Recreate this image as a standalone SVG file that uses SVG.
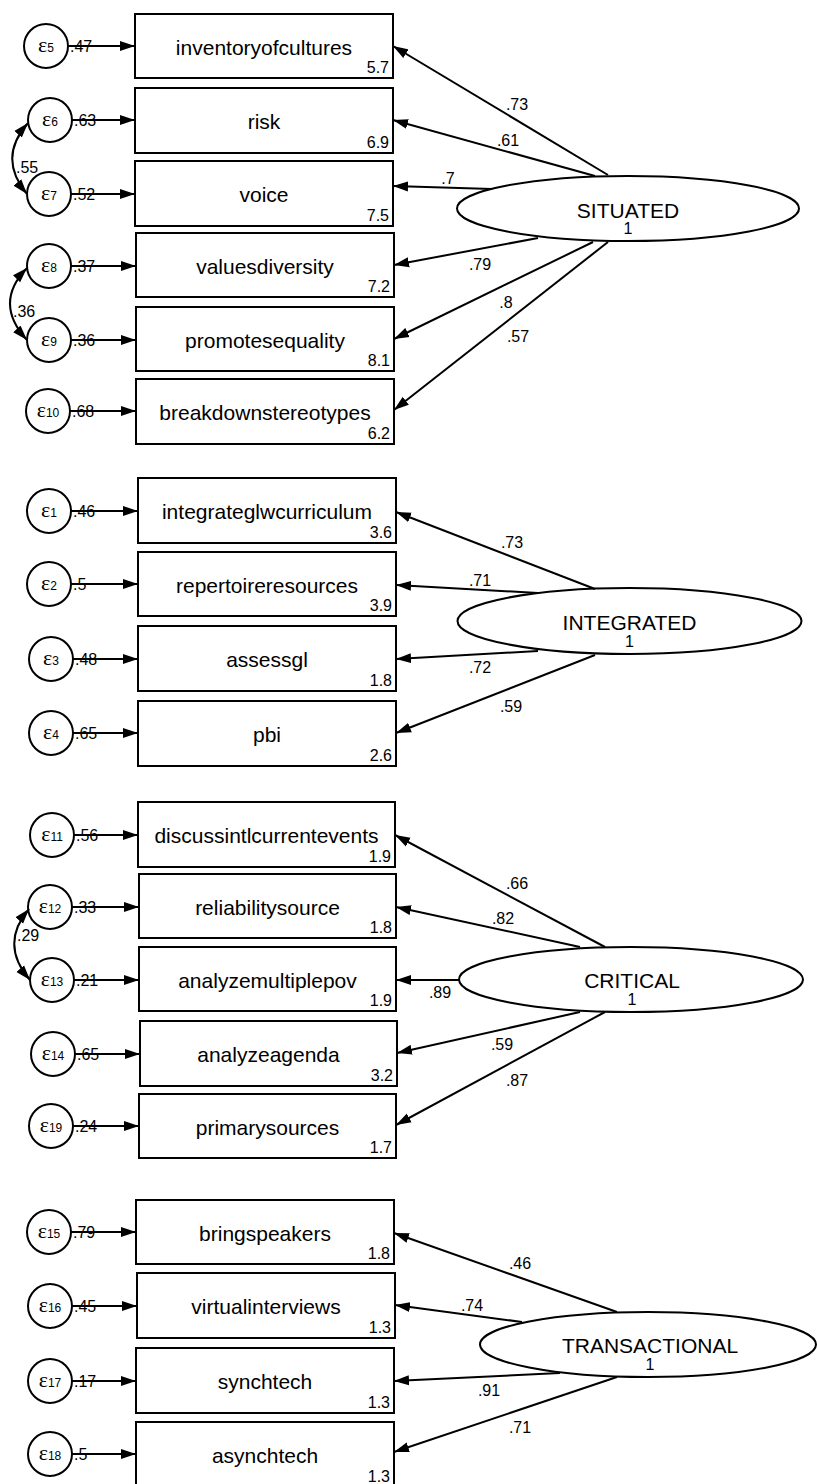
<svg xmlns="http://www.w3.org/2000/svg" width="817" height="1484" viewBox="0 0 817 1484">
<style>
.bx{fill:#fff;stroke:#000;stroke-width:2}
.er{fill:#fff;stroke:#000;stroke-width:2}
.lv{fill:#fff;stroke:#000;stroke-width:2}
.ln{fill:none;stroke:#000;stroke-width:2}
.lbl{font-family:"Liberation Sans",Arial,sans-serif;font-size:21px;text-anchor:middle;fill:#000}
.num{font-family:"Liberation Sans",Arial,sans-serif;font-size:16px;text-anchor:end;fill:#000}
.coef{font-family:"Liberation Sans",Arial,sans-serif;font-size:16px;text-anchor:middle;fill:#000}
.el{font-family:"Liberation Sans",Arial,sans-serif;font-size:16px;fill:#000}
.one{font-family:"Liberation Sans",Arial,sans-serif;font-size:16px;text-anchor:middle;fill:#000}
.eps{font-family:"Liberation Serif","Times New Roman",serif;font-size:22px}
.sub{font-family:"Liberation Sans",Arial,sans-serif;font-size:12px}
.et{text-anchor:middle;fill:#000}
</style>
<defs>
<marker id="ah" markerWidth="16" markerHeight="11" refX="15" refY="5.5" orient="auto-start-reverse" markerUnits="userSpaceOnUse"><path d="M0,0.5 L15,5.5 L0,10.5 z" fill="#000"/></marker>
</defs>

<!-- ===== SITUATED section ===== -->
<g id="box-inventoryofcultures"><rect class="bx" x="135" y="14" width="258" height="64"/><text class="lbl" x="264" y="55">inventoryofcultures</text><text class="num" x="389" y="73">5.7</text></g>
<g id="box-risk"><rect class="bx" x="135" y="88" width="258" height="65"/><text class="lbl" x="264" y="129">risk</text><text class="num" x="389" y="148">6.9</text></g>
<g id="box-voice"><rect class="bx" x="135" y="161" width="258" height="65"/><text class="lbl" x="264" y="202">voice</text><text class="num" x="389" y="221">7.5</text></g>
<g id="box-valuesdiversity"><rect class="bx" x="136" y="233" width="258" height="64"/><text class="lbl" x="265" y="274">valuesdiversity</text><text class="num" x="390" y="292">7.2</text></g>
<g id="box-promotesequality"><rect class="bx" x="136" y="307" width="258" height="64"/><text class="lbl" x="265" y="348">promotesequality</text><text class="num" x="390" y="366">8.1</text></g>
<g id="box-breakdownstereotypes"><rect class="bx" x="136" y="379" width="258" height="65"/><text class="lbl" x="265" y="420">breakdownstereotypes</text><text class="num" x="390" y="439">6.2</text></g>

<g id="e5"><circle class="er" cx="46" cy="46" r="22"/><text class="et" x="46" y="52"><tspan class="eps">ε</tspan><tspan class="sub">5</tspan></text></g>
<g id="e6"><circle class="er" cx="50" cy="120" r="22"/><text class="et" x="50" y="126"><tspan class="eps">ε</tspan><tspan class="sub">6</tspan></text></g>
<g id="e7"><circle class="er" cx="49" cy="194" r="22"/><text class="et" x="49" y="200"><tspan class="eps">ε</tspan><tspan class="sub">7</tspan></text></g>
<g id="e8"><circle class="er" cx="49" cy="266" r="22"/><text class="et" x="49" y="272"><tspan class="eps">ε</tspan><tspan class="sub">8</tspan></text></g>
<g id="e9"><circle class="er" cx="49" cy="340" r="22"/><text class="et" x="49" y="346"><tspan class="eps">ε</tspan><tspan class="sub">9</tspan></text></g>
<g id="e10"><circle class="er" cx="48" cy="411" r="22"/><text class="et" x="48" y="417"><tspan class="eps">ε</tspan><tspan class="sub">10</tspan></text></g>

<g id="SITUATED"><ellipse class="lv" cx="628" cy="208.5" rx="171" ry="32.5"/><text class="lbl" x="628" y="218">SITUATED</text><text class="one" x="628" y="234">1</text></g>

<!-- ===== INTEGRATED section ===== -->
<g id="box-integrateglwcurriculum"><rect class="bx" x="138" y="478" width="258" height="65"/><text class="lbl" x="267" y="519">integrateglwcurriculum</text><text class="num" x="392" y="538">3.6</text></g>
<g id="box-repertoireresources"><rect class="bx" x="138" y="552" width="258" height="64"/><text class="lbl" x="267" y="593">repertoireresources</text><text class="num" x="392" y="611">3.9</text></g>
<g id="box-assessgl"><rect class="bx" x="138" y="626" width="258" height="65"/><text class="lbl" x="267" y="667">assessgl</text><text class="num" x="392" y="686">1.8</text></g>
<g id="box-pbi"><rect class="bx" x="138" y="701" width="258" height="65"/><text class="lbl" x="267" y="742">pbi</text><text class="num" x="392" y="761">2.6</text></g>

<g id="e1"><circle class="er" cx="49" cy="511" r="22"/><text class="et" x="49" y="517"><tspan class="eps">ε</tspan><tspan class="sub">1</tspan></text></g>
<g id="e2"><circle class="er" cx="49" cy="584" r="22"/><text class="et" x="49" y="590"><tspan class="eps">ε</tspan><tspan class="sub">2</tspan></text></g>
<g id="e3"><circle class="er" cx="51" cy="659" r="22"/><text class="et" x="51" y="665"><tspan class="eps">ε</tspan><tspan class="sub">3</tspan></text></g>
<g id="e4"><circle class="er" cx="51" cy="733" r="22"/><text class="et" x="51" y="739"><tspan class="eps">ε</tspan><tspan class="sub">4</tspan></text></g>

<g id="INTEGRATED"><ellipse class="lv" cx="629.5" cy="621" rx="172" ry="33"/><text class="lbl" x="629.5" y="630">INTEGRATED</text><text class="one" x="629.5" y="647">1</text></g>

<!-- ===== CRITICAL section ===== -->
<g id="box-discussintlcurrentevents"><rect class="bx" x="138" y="802" width="257" height="65"/><text class="lbl" x="266.5" y="843">discussintlcurrentevents</text><text class="num" x="391" y="862">1.9</text></g>
<g id="box-reliabilitysource"><rect class="bx" x="139" y="874" width="257" height="64"/><text class="lbl" x="267.5" y="915">reliabilitysource</text><text class="num" x="392" y="933">1.8</text></g>
<g id="box-analyzemultiplepov"><rect class="bx" x="139" y="947" width="257" height="64"/><text class="lbl" x="267.5" y="988">analyzemultiplepov</text><text class="num" x="392" y="1006">1.9</text></g>
<g id="box-analyzeagenda"><rect class="bx" x="140" y="1021" width="257" height="65"/><text class="lbl" x="268.5" y="1062">analyzeagenda</text><text class="num" x="393" y="1081">3.2</text></g>
<g id="box-primarysources"><rect class="bx" x="139" y="1094" width="257" height="64"/><text class="lbl" x="267.5" y="1135">primarysources</text><text class="num" x="392" y="1153">1.7</text></g>

<g id="e11"><circle class="er" cx="52" cy="835" r="22"/><text class="et" x="52" y="841"><tspan class="eps">ε</tspan><tspan class="sub">11</tspan></text></g>
<g id="e12"><circle class="er" cx="50" cy="907" r="22"/><text class="et" x="50" y="913"><tspan class="eps">ε</tspan><tspan class="sub">12</tspan></text></g>
<g id="e13"><circle class="er" cx="52" cy="980" r="22"/><text class="et" x="52" y="986"><tspan class="eps">ε</tspan><tspan class="sub">13</tspan></text></g>
<g id="e14"><circle class="er" cx="53" cy="1054" r="22"/><text class="et" x="53" y="1060"><tspan class="eps">ε</tspan><tspan class="sub">14</tspan></text></g>
<g id="e19"><circle class="er" cx="51" cy="1126" r="22"/><text class="et" x="51" y="1132"><tspan class="eps">ε</tspan><tspan class="sub">19</tspan></text></g>

<g id="CRITICAL"><ellipse class="lv" cx="631" cy="979.5" rx="172" ry="32.5"/><text class="lbl" x="632" y="988">CRITICAL</text><text class="one" x="632" y="1005">1</text></g>

<!-- ===== TRANSACTIONAL section ===== -->
<g id="box-bringspeakers"><rect class="bx" x="136" y="1200" width="258" height="64"/><text class="lbl" x="265" y="1241">bringspeakers</text><text class="num" x="390" y="1259">1.8</text></g>
<g id="box-virtualinterviews"><rect class="bx" x="137" y="1273" width="258" height="65"/><text class="lbl" x="266" y="1314">virtualinterviews</text><text class="num" x="391" y="1333">1.3</text></g>
<g id="box-synchtech"><rect class="bx" x="136" y="1348" width="258" height="65"/><text class="lbl" x="265" y="1389">synchtech</text><text class="num" x="390" y="1408">1.3</text></g>
<g id="box-asynchtech"><rect class="bx" x="136" y="1422" width="258" height="65"/><text class="lbl" x="265" y="1463">asynchtech</text><text class="num" x="390" y="1482">1.3</text></g>

<g id="e15"><circle class="er" cx="49" cy="1232" r="22"/><text class="et" x="49" y="1238"><tspan class="eps">ε</tspan><tspan class="sub">15</tspan></text></g>
<g id="e16"><circle class="er" cx="50" cy="1306" r="22"/><text class="et" x="50" y="1312"><tspan class="eps">ε</tspan><tspan class="sub">16</tspan></text></g>
<g id="e17"><circle class="er" cx="50" cy="1381" r="22"/><text class="et" x="50" y="1387"><tspan class="eps">ε</tspan><tspan class="sub">17</tspan></text></g>
<g id="e18"><circle class="er" cx="50" cy="1454" r="22"/><text class="et" x="50" y="1460"><tspan class="eps">ε</tspan><tspan class="sub">18</tspan></text></g>

<g id="TRANSACTIONAL"><ellipse class="lv" cx="648" cy="1344.5" rx="168" ry="32.5"/><text class="lbl" x="650" y="1353">TRANSACTIONAL</text><text class="one" x="650" y="1370">1</text></g>

<!-- ===== connectors ===== -->
<g id="connectors">
<!-- error paths -->
<line class="ln" x1="68" y1="46" x2="135" y2="46" marker-end="url(#ah)"/>
<line class="ln" x1="72" y1="120" x2="135" y2="120" marker-end="url(#ah)"/>
<line class="ln" x1="71" y1="194" x2="135" y2="194" marker-end="url(#ah)"/>
<line class="ln" x1="71" y1="266" x2="136" y2="266" marker-end="url(#ah)"/>
<line class="ln" x1="71" y1="340" x2="136" y2="340" marker-end="url(#ah)"/>
<line class="ln" x1="70" y1="411" x2="136" y2="411" marker-end="url(#ah)"/>
<line class="ln" x1="71" y1="511" x2="138" y2="511" marker-end="url(#ah)"/>
<line class="ln" x1="71" y1="584" x2="138" y2="584" marker-end="url(#ah)"/>
<line class="ln" x1="73" y1="659" x2="138" y2="659" marker-end="url(#ah)"/>
<line class="ln" x1="73" y1="733" x2="138" y2="733" marker-end="url(#ah)"/>
<line class="ln" x1="74" y1="835" x2="138" y2="835" marker-end="url(#ah)"/>
<line class="ln" x1="72" y1="907" x2="139" y2="907" marker-end="url(#ah)"/>
<line class="ln" x1="74" y1="980" x2="139" y2="980" marker-end="url(#ah)"/>
<line class="ln" x1="75" y1="1054" x2="140" y2="1054" marker-end="url(#ah)"/>
<line class="ln" x1="73" y1="1126" x2="139" y2="1126" marker-end="url(#ah)"/>
<line class="ln" x1="71" y1="1232" x2="136" y2="1232" marker-end="url(#ah)"/>
<line class="ln" x1="72" y1="1306" x2="137" y2="1306" marker-end="url(#ah)"/>
<line class="ln" x1="72" y1="1381" x2="136" y2="1381" marker-end="url(#ah)"/>
<line class="ln" x1="72" y1="1454" x2="136" y2="1454" marker-end="url(#ah)"/>
<!-- covariances -->
<path class="ln" d="M28,123 Q-3,158 27,194" marker-start="url(#ah)" marker-end="url(#ah)"/>
<path class="ln" d="M27,268 Q-7,303 27,340" marker-start="url(#ah)" marker-end="url(#ah)"/>
<path class="ln" d="M29,909 Q-1,944 30,980" marker-start="url(#ah)" marker-end="url(#ah)"/>
<!-- SITUATED loadings -->
<line class="ln" x1="608" y1="175" x2="393" y2="46" marker-end="url(#ah)"/>
<line class="ln" x1="595" y1="176" x2="393" y2="120" marker-end="url(#ah)"/>
<line class="ln" x1="492" y1="189" x2="393" y2="186" marker-end="url(#ah)"/>
<line class="ln" x1="538" y1="238" x2="394" y2="265" marker-end="url(#ah)"/>
<line class="ln" x1="593" y1="242" x2="394" y2="339" marker-end="url(#ah)"/>
<line class="ln" x1="608" y1="242" x2="394" y2="410" marker-end="url(#ah)"/>
<!-- INTEGRATED loadings -->
<line class="ln" x1="595" y1="589" x2="396" y2="512" marker-end="url(#ah)"/>
<line class="ln" x1="538" y1="593" x2="396" y2="585" marker-end="url(#ah)"/>
<line class="ln" x1="538" y1="651" x2="396" y2="659" marker-end="url(#ah)"/>
<line class="ln" x1="595" y1="655" x2="396" y2="733" marker-end="url(#ah)"/>
<!-- CRITICAL loadings -->
<line class="ln" x1="605" y1="947" x2="395" y2="835" marker-end="url(#ah)"/>
<line class="ln" x1="580" y1="947" x2="396" y2="907" marker-end="url(#ah)"/>
<line class="ln" x1="459" y1="980" x2="396" y2="980" marker-end="url(#ah)"/>
<line class="ln" x1="580" y1="1012" x2="397" y2="1053" marker-end="url(#ah)"/>
<line class="ln" x1="605" y1="1012" x2="396" y2="1125" marker-end="url(#ah)"/>
<!-- TRANSACTIONAL loadings -->
<line class="ln" x1="617" y1="1312" x2="394" y2="1233" marker-end="url(#ah)"/>
<line class="ln" x1="522" y1="1322" x2="395" y2="1305" marker-end="url(#ah)"/>
<line class="ln" x1="560" y1="1373" x2="394" y2="1381" marker-end="url(#ah)"/>
<line class="ln" x1="617" y1="1377" x2="394" y2="1452" marker-end="url(#ah)"/>
</g>

<g id="connector-labels">
<text class="el" x="70" y="52">.47</text>
<text class="el" x="74" y="126">.63</text>
<text class="el" x="73" y="200">.52</text>
<text class="el" x="73" y="272">.37</text>
<text class="el" x="73" y="346">.36</text>
<text class="el" x="72" y="417">.68</text>
<text class="el" x="73" y="517">.46</text>
<text class="el" x="73" y="590">.5</text>
<text class="el" x="75" y="665">.48</text>
<text class="el" x="75" y="739">.65</text>
<text class="el" x="76" y="841">.56</text>
<text class="el" x="74" y="913">.33</text>
<text class="el" x="76" y="986">.21</text>
<text class="el" x="77" y="1060">.65</text>
<text class="el" x="75" y="1132">.24</text>
<text class="el" x="73" y="1238">.79</text>
<text class="el" x="74" y="1312">.45</text>
<text class="el" x="74" y="1387">.17</text>
<text class="el" x="74" y="1460">.5</text>
<text class="el" x="16" y="173">.55</text>
<text class="el" x="13" y="317">.36</text>
<text class="el" x="17" y="941">.29</text>
<text class="coef" x="517" y="110">.73</text>
<text class="coef" x="508" y="146">.61</text>
<text class="coef" x="448" y="184">.7</text>
<text class="coef" x="480" y="270">.79</text>
<text class="coef" x="506" y="308">.8</text>
<text class="coef" x="518" y="342">.57</text>
<text class="coef" x="512" y="548">.73</text>
<text class="coef" x="480" y="586">.71</text>
<text class="coef" x="480" y="673">.72</text>
<text class="coef" x="511" y="712">.59</text>
<text class="coef" x="517" y="889">.66</text>
<text class="coef" x="503" y="924">.82</text>
<text class="coef" x="440" y="998">.89</text>
<text class="coef" x="502" y="1050">.59</text>
<text class="coef" x="517" y="1086">.87</text>
<text class="coef" x="520" y="1269">.46</text>
<text class="coef" x="472" y="1311">.74</text>
<text class="coef" x="489" y="1396">.91</text>
<text class="coef" x="520" y="1433">.71</text>
</g>
</svg>
